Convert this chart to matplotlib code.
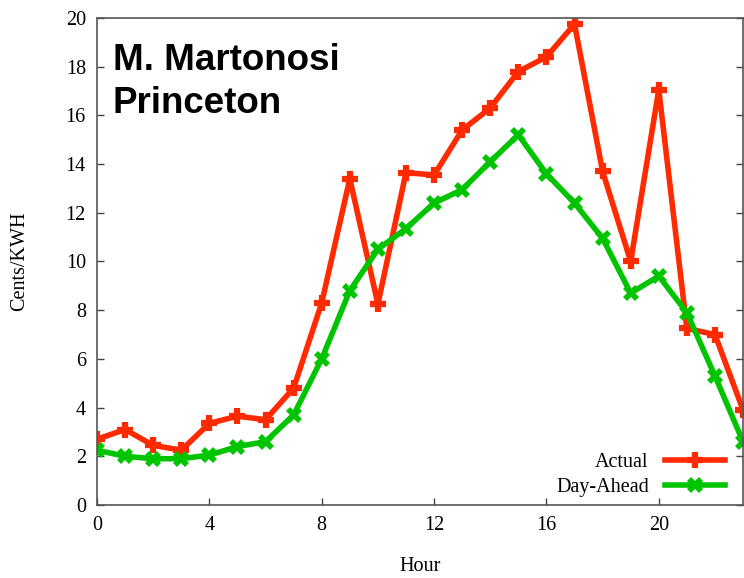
import matplotlib
matplotlib.use("Agg")
import matplotlib.pyplot as plt
import numpy as np

# hourly prices
hours = np.arange(24)
actual = [2.7, 3.1, 2.45, 2.25, 3.35, 3.65, 3.5, 4.8, 8.3, 13.4, 8.25, 13.65,
          13.55, 15.4, 16.3, 17.8, 18.4, 19.75, 13.7, 10.0, 17.05, 7.25, 7.0, 3.9]
day_ahead = [2.25, 2.0, 1.9, 1.9, 2.05, 2.4, 2.6, 3.7, 6.0, 8.8, 10.5, 11.35,
             12.4, 12.95, 14.1, 15.2, 13.6, 12.4, 10.95, 8.7, 9.4, 7.9, 5.3, 2.6]
xticks = [0, 4, 8, 12, 16, 20]
yticks = [0, 2, 4, 6, 8, 10, 12, 14, 16, 18, 20]

plt.rcParams['font.family'] = ['Liberation Serif', 'DejaVu Serif']

fig = plt.figure(figsize=(7.44, 5.78), dpi=100)
ax = fig.add_axes([0.1304, 0.1263, 0.8683, 0.8426])

red = '#ff2a00'
green = '#00c400'
ax.plot(hours, actual, color=red, lw=4, marker='+', ms=12, mew=4.5, label='Actual')
ax.plot(hours, day_ahead, color=green, lw=4, marker='X', ms=12, mew=0, label='Day-Ahead')

ax.set_xlim(0, 23)
ax.set_ylim(0, 20)
ax.set_xticks(xticks)
ax.set_yticks(yticks)
ax.tick_params(direction='in', length=5, width=1, labelsize=14.5, right=True, top=False,
               colors='#444444', labelcolor='black', pad=8)
for s in ax.spines.values():
    s.set_color('#555555')
    s.set_linewidth(1.2)

ax.set_xlabel('Hour', fontsize=14.5, labelpad=16)
ax.set_ylabel('Cents/KWH', fontsize=14.5, labelpad=26)

ax.text(0.024, 0.948, 'M. Martonosi\nPrinceton', transform=ax.transAxes,
        family='Liberation Sans', fontweight='bold', fontsize=26.5, va='top',
        linespacing=1.3)

leg = ax.legend(loc='lower right', frameon=False, markerfirst=False, fontsize=14.5,
                handlelength=3.0, borderaxespad=0.0, labelspacing=0.3,
                bbox_to_anchor=(0.985, 0.0))
for t in leg.get_texts():
    t.set_ha('right')

fig.savefig('out.png', dpi=100)
